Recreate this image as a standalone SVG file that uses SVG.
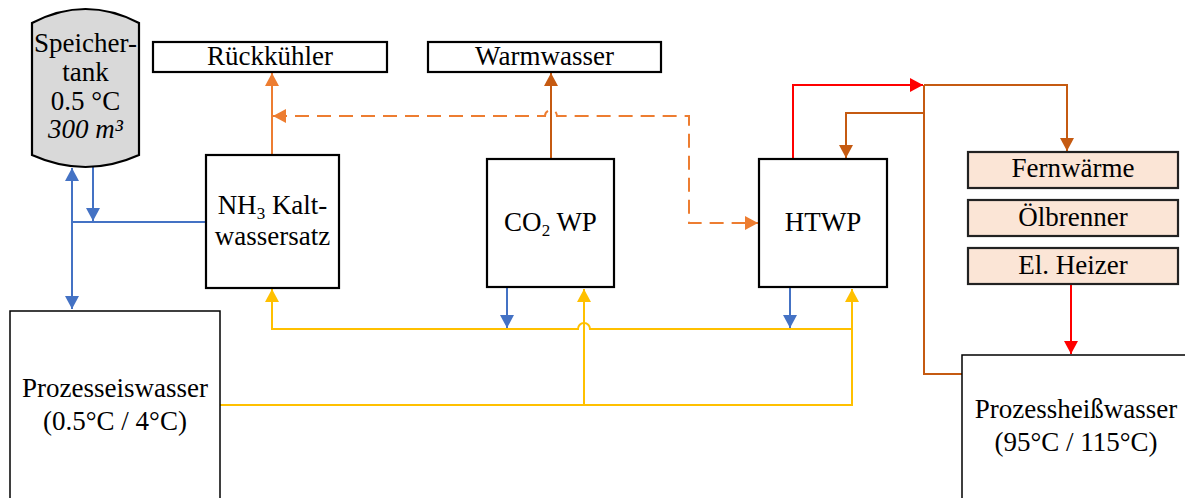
<svg xmlns="http://www.w3.org/2000/svg" width="1185" height="498" viewBox="0 0 1185 498">
<style>
text{font-family:"Liberation Serif","Times New Roman",serif;font-size:27px;fill:#000;text-anchor:middle}
.box{fill:#fff;stroke:#000;stroke-width:2.2}
.thin{fill:#fff;stroke:#000;stroke-width:1.5}
.peach{fill:#fbe5d6;stroke:#222;stroke-width:2.2}
.ln{fill:none;stroke-width:2}
.red{stroke:#ff0000}.brn{stroke:#c55a11}.org{stroke:#ed7d31}.blu{stroke:#4472c4}.yel{stroke:#ffc000}
</style>
<defs>
<marker id="aRed" markerUnits="userSpaceOnUse" markerWidth="14" markerHeight="14" refX="13" refY="7" orient="auto-start-reverse"><path d="M0,0L13,7L0,14z" fill="#ff0000"/></marker>
<marker id="aBrn" markerUnits="userSpaceOnUse" markerWidth="14" markerHeight="14" refX="13" refY="7" orient="auto-start-reverse"><path d="M0,0L13,7L0,14z" fill="#c55a11"/></marker>
<marker id="aOrg" markerUnits="userSpaceOnUse" markerWidth="14" markerHeight="14" refX="13" refY="7" orient="auto-start-reverse"><path d="M0,0L13,7L0,14z" fill="#ed7d31"/></marker>
<marker id="aBlu" markerUnits="userSpaceOnUse" markerWidth="14" markerHeight="14" refX="13" refY="7" orient="auto-start-reverse"><path d="M0,0L13,7L0,14z" fill="#4472c4"/></marker>
<marker id="aYel" markerUnits="userSpaceOnUse" markerWidth="14" markerHeight="14" refX="13" refY="7" orient="auto-start-reverse"><path d="M0,0L13,7L0,14z" fill="#ffc000"/></marker>
</defs>

<g id="connectors">
<path class="ln org" d="M272,155V73" marker-end="url(#aOrg)"/>
<path class="ln org" stroke-dasharray="14,8" d="M273,116H545A6,6 0 0 1 557,116H689V223H758" marker-start="url(#aOrg)" marker-end="url(#aOrg)"/>
<path class="ln brn" d="M551,158V73" marker-end="url(#aBrn)"/>
<path class="ln red" d="M793,158V85H923" marker-end="url(#aRed)"/>
<path class="ln brn" d="M924,85H1067V151" marker-end="url(#aBrn)"/>
<path class="ln brn" d="M924,85V374H962"/>
<path class="ln brn" d="M924,113H846V158" marker-end="url(#aBrn)"/>
<path class="ln red" d="M1071,285V354" marker-end="url(#aRed)"/>
<path class="ln blu" d="M72,309V168" marker-start="url(#aBlu)" marker-end="url(#aBlu)"/>
<path class="ln blu" d="M93,167V221" marker-end="url(#aBlu)"/>
<path class="ln blu" d="M72,222H206"/>
<path class="ln blu" d="M507,288V328" marker-end="url(#aBlu)"/>
<path class="ln blu" d="M790,288V328" marker-end="url(#aBlu)"/>
<path class="ln yel" d="M852,329H590A6,6 0 0 0 578,329H272V289" marker-end="url(#aYel)"/>
<path class="ln yel" d="M220,405H852V289" marker-end="url(#aYel)"/>
<path class="ln yel" d="M584,405V289" marker-end="url(#aYel)"/>
</g>

<g id="speichertank">
<path d="M32,23Q85.5,-5 139,23L139,155Q85.5,179 32,155Z" fill="#d9d9d9" stroke="#000" stroke-width="2.2"/>
<text x="85.5" y="52" font-size="25">Speicher-</text>
<text x="85.5" y="81" font-size="25">tank</text>
<text x="85.5" y="110" font-size="25">0.5 °C</text>
<text x="85.5" y="138" font-size="25" font-style="italic">300 m³</text>
</g>

<g id="rueckkuehler">
<rect class="box" x="153" y="42" width="234" height="30"/>
<text x="270" y="65">Rückkühler</text>
</g>

<g id="warmwasser">
<rect class="box" x="428" y="42" width="233" height="30"/>
<text x="544.5" y="65">Warmwasser</text>
</g>

<g id="nh3">
<rect class="box" x="206" y="155" width="133" height="133"/>
<text x="272.5" y="214">NH<tspan font-size="17" dy="5">3</tspan><tspan dy="-5"> Kalt-</tspan></text>
<text x="272.5" y="245">wassersatz</text>
</g>

<g id="co2wp">
<rect class="box" x="487" y="159" width="127" height="128"/>
<text x="550.5" y="231">CO<tspan font-size="17" dy="5">2</tspan><tspan dy="-5"> WP</tspan></text>
</g>

<g id="htwp">
<rect class="box" x="759" y="159" width="128" height="128"/>
<text x="823" y="231">HTWP</text>
</g>

<g id="fernwaerme">
<rect class="peach" x="968" y="152" width="210" height="36"/>
<text x="1073" y="177">Fernwärme</text>
</g>

<g id="oelbrenner">
<rect class="peach" x="968" y="200" width="210" height="36"/>
<text x="1073" y="226">Ölbrenner</text>
</g>

<g id="elheizer">
<rect class="peach" x="968" y="248" width="210" height="36"/>
<text x="1073" y="274">El. Heizer</text>
</g>

<g id="prozesseiswasser">
<rect class="thin" x="10" y="311" width="210" height="200"/>
<text x="115" y="397">Prozesseiswasser</text>
<text x="115" y="430">(0.5°C / 4°C)</text>
</g>

<g id="prozessheisswasser">
<rect class="thin" x="962" y="355" width="230" height="160"/>
<text x="1076" y="418">Prozessheißwasser</text>
<text x="1076" y="451">(95°C / 115°C)</text>
</g>
</svg>
